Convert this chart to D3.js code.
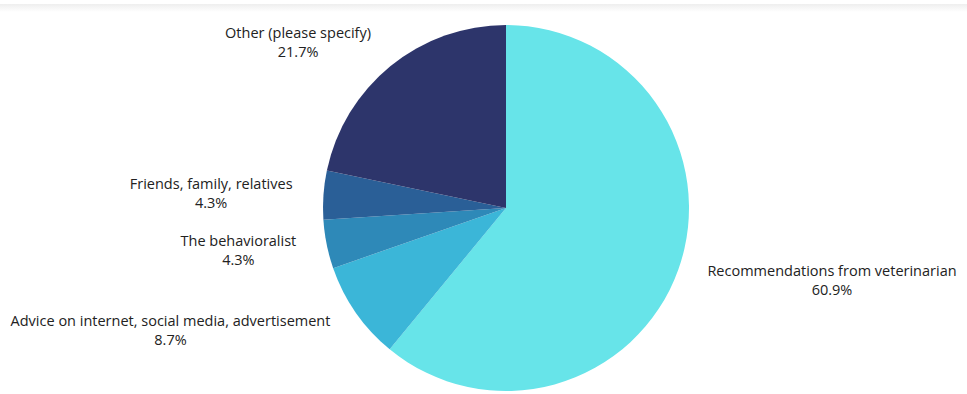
<!DOCTYPE html>
<html>
<head>
<meta charset="utf-8">
<script src="https://cdn.jsdelivr.net/npm/d3@7"></script>
<style>
  html, body { margin: 0; padding: 0; background: #fff; }
  svg { display: block; }
</style>
</head>
<body>
<svg id="chart" width="967" height="394"></svg>
<script>
// Survey answers, clockwise from 12 o'clock
const categories = [
  "Recommendations from veterinarian",
  "Advice on internet, social media, advertisement",
  "The behavioralist",
  "Friends, family, relatives",
  "Other (please specify)"
];
const shares = [60.9, 8.7, 4.3, 4.3, 21.7];
const percentLabels = ["60.9%", "8.7%", "4.3%", "4.3%", "21.7%"];
const sliceColors = ["#67e4e9", "#3bb6d8", "#2e89b8", "#2a5f97", "#2d356b"];

const width = 967, height = 394;
const cx = 506, cy = 208, radius = 183;
const labelRadius = 214;
const lineGap = 19;
const fontSize = 14.5;

const svg = d3.select("#chart");

// faint shadow strip along the top edge
const defs = svg.append("defs");
const grad = defs.append("linearGradient")
  .attr("id", "topShade").attr("x1", 0).attr("x2", 0).attr("y1", 0).attr("y2", 1);
grad.append("stop").attr("offset", "0%").attr("stop-color", "#eeeeee");
grad.append("stop").attr("offset", "100%").attr("stop-color", "#ffffff");
svg.append("rect").attr("x", 0).attr("y", 4).attr("width", width).attr("height", 8)
  .attr("fill", "url(#topShade)");

const data = categories.map((c, i) => ({ name: c, value: shares[i], pct: percentLabels[i], color: sliceColors[i] }));

const pie = d3.pie().value(d => d.value).sort(null);
const arc = d3.arc().innerRadius(0).outerRadius(radius);
const arcs = pie(data);

const g = svg.append("g").attr("transform", `translate(${cx},${cy})`);

g.selectAll("path.slice")
  .data(arcs)
  .join("path")
  .attr("class", "slice")
  .attr("d", arc)
  .attr("fill", d => d.data.color);

// labels outside the pie, block edge on the slice's mid-angle ray
const labels = g.selectAll("g.label")
  .data(arcs)
  .join("g")
  .attr("class", "label");

labels.each(function(d) {
  const grp = d3.select(this);
  const a = (d.startAngle + d.endAngle) / 2;
  const qx = labelRadius * Math.sin(a);
  const qy = -labelRadius * Math.cos(a);

  const t1 = grp.append("text").text(d.data.name);
  const t2 = grp.append("text").text(d.data.pct);
  grp.selectAll("text")
    .attr("font-family", "'Open Sans', sans-serif")
    .attr("font-size", fontSize)
    .attr("fill", "#222")
    .attr("text-anchor", "middle");

  const w = Math.max(t1.node().getComputedTextLength(), t2.node().getComputedTextLength());
  const centerX = Math.sin(a) < 0 ? qx - w / 2 : qx + w / 2;
  const base1 = qy - 4.3;
  t1.attr("x", centerX).attr("y", base1);
  t2.attr("x", centerX).attr("y", base1 + lineGap);
});
</script>
</body>
</html>
